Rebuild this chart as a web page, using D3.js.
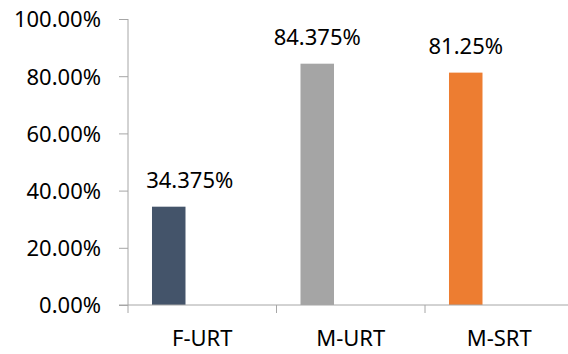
<!DOCTYPE html>
<html>
<head>
<meta charset="utf-8">
<script src="https://cdn.jsdelivr.net/npm/d3@7"></script>
<style>
  html, body { margin: 0; padding: 0; background: #fff; }
  svg text { font-family: "Noto Sans", "Open Sans", sans-serif; fill: #000; }
</style>
</head>
<body>
<svg id="chart" width="568" height="354"></svg>
<script>
// Share of each group, in percent
const categories = ["F-URT", "M-URT", "M-SRT"];
const values = [34.375, 84.375, 81.25];
const barColors = ["#44546A", "#A5A5A5", "#ED7D31"];
const yTicks = [0, 20, 40, 60, 80, 100];
const yTickLabels = ["0.00%", "20.00%", "40.00%", "60.00%", "80.00%", "100.00%"];
// three series slots per category; bars sit in the first slot
const slots = ["s1", "s2", "s3"];

const svg = d3.select("#chart");
const axisColor = "#A6A6A6";
const fontSize = 22;

const plotLeft = 128, plotTop = 19, plotBottom = 305;
const bandStep = 148.5;

const x = d3.scaleBand()
  .domain(categories)
  .range([plotLeft, plotLeft + bandStep * categories.length])
  .padding(0);

const xSlot = d3.scaleBand()
  .domain(slots)
  .range([0, x.bandwidth()])
  .paddingInner(0)
  .paddingOuter(0.716);

const y = d3.scaleLinear().domain([0, 100]).range([plotBottom, plotTop]);

// bars
svg.append("g").selectAll("rect")
  .data(categories)
  .join("rect")
  .attr("x", (d) => x(d) + xSlot("s1"))
  .attr("width", xSlot.bandwidth())
  .attr("y", (d, i) => y(values[i]))
  .attr("height", (d, i) => y(0) - y(values[i]))
  .attr("fill", (d, i) => barColors[i]);

// y axis
const yAxis = d3.axisLeft(y)
  .tickValues(yTicks)
  .tickFormat((d, i) => yTickLabels[i])
  .tickSize(9)
  .tickPadding(18);

const gy = svg.append("g")
  .attr("transform", `translate(${plotLeft},0)`)
  .call(yAxis);
gy.select(".domain").attr("stroke", axisColor).attr("d", `M0,${plotTop}V${plotBottom}`);
gy.selectAll(".tick line").attr("stroke", axisColor);
gy.selectAll(".tick text")
  .attr("font-size", fontSize)
  .attr("font-family", null)
  .attr("dy", "0.36em");

// x axis: ticks on category boundaries
const gx = svg.append("g").attr("transform", `translate(0,${plotBottom})`);
gx.append("line")
  .attr("x1", plotLeft - 9).attr("x2", 568)
  .attr("y1", 0).attr("y2", 0)
  .attr("stroke", axisColor);
const boundaries = categories.map((c) => x(c)).concat([x(categories[categories.length - 1]) + x.bandwidth()]);
gx.selectAll("line.tick")
  .data(boundaries)
  .join("line")
  .attr("class", "tick")
  .attr("x1", (d) => d).attr("x2", (d) => d)
  .attr("y1", 0).attr("y2", 8)
  .attr("stroke", axisColor);
gx.selectAll("text")
  .data(categories)
  .join("text")
  .attr("x", (d) => x(d) + x.bandwidth() / 2)
  .attr("y", 41)
  .attr("text-anchor", "middle")
  .attr("font-size", fontSize)
  .text((d) => d);

// value labels above bars; the first one sits a little to the right
const labelShift = { "F-URT": 21 };
svg.append("g").selectAll("text")
  .data(categories)
  .join("text")
  .attr("x", (d) => x(d) + xSlot("s1") + xSlot.bandwidth() / 2 + (labelShift[d] || 0))
  .attr("y", (d, i) => y(values[i]) - 19)
  .attr("text-anchor", "middle")
  .attr("font-size", fontSize)
  .text((d, i) => `${values[i]}%`);
</script>
</body>
</html>
